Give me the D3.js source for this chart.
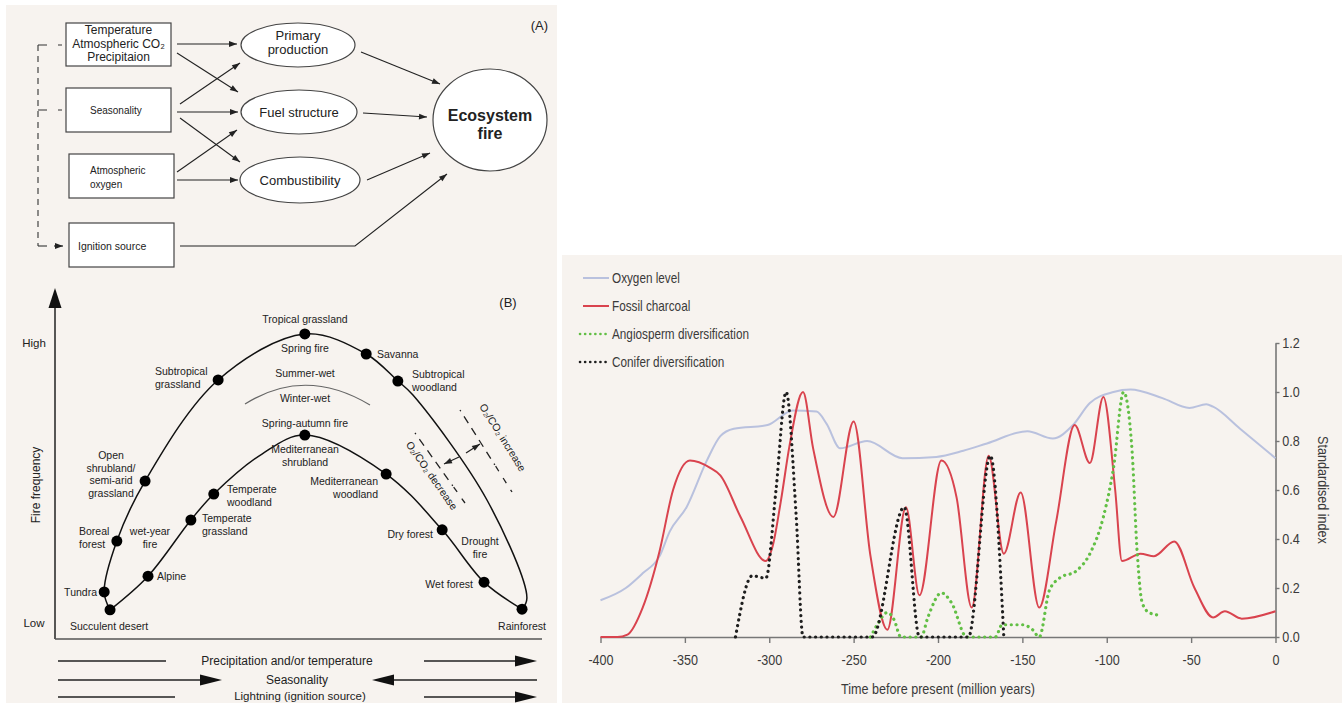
<!DOCTYPE html>
<html>
<head>
<meta charset="utf-8">
<script src="https://cdn.jsdelivr.net/npm/d3@7"></script>
<style>
  body { margin: 0; background: #fff; }
  svg text { font-family: "Liberation Sans", Arial, sans-serif; fill: #222; }
  .narrow text { fill: #3a3a3a; }
</style>
</head>
<body>
<div id="chart"></div>
<script>
// ---------- right chart data: [time (Ma), standardised index] ----------
const oxygenLevel = [[-400,0.15],[-385,0.2],[-375,0.26],[-365,0.33],[-359,0.43],[-349,0.53],[-337,0.72],[-329,0.82],[-321,0.85],[-301,0.865],
  [-286,0.925],[-272,0.92],[-266,0.87],[-258,0.77],[-242,0.8],[-221,0.73],[-201,0.735],[-185,0.76],[-171,0.79],[-147,0.84],
  [-132,0.81],[-120,0.865],[-110,0.955],[-96,1.0],[-86,1.01],[-67,0.975],[-51,0.935],[-41,0.95],[-37,0.94],[-21,0.85],[0,0.73]];
const fossilCharcoal = [[-400,0],[-390,0],[-384,0.01],[-375,0.12],[-365,0.35],[-357,0.6],[-347,0.72],[-335,0.69],[-329,0.66],[-317,0.49],
  [-302,0.31],[-298,0.37],[-293,0.56],[-288,0.78],[-280,1.0],[-274,0.77],[-262,0.49],[-250,0.88],[-240,0.33],[-230,0.03],
  [-219,0.53],[-211,0.17],[-198,0.72],[-189,0.57],[-180,0.12],[-170,0.74],[-161,0.34],[-151,0.59],[-140,0.12],[-130,0.47],
  [-119,0.865],[-110,0.71],[-102,0.98],[-95,0.6],[-91,0.31],[-80,0.34],[-72,0.33],[-60,0.39],[-48,0.2],[-37,0.08],
  [-30,0.105],[-20,0.075],[0,0.105]];
const angiosperm = [[-240,0],[-236,0.05],[-230,0.1],[-226,0.07],[-222,0],[-210,0],[-206,0.08],[-198,0.18],[-192,0.14],[-183,0],
  [-166,0],[-162,0.05],[-150,0.05],[-144,0.03],[-140,0],[-134,0.19],[-128,0.24],[-118,0.27],[-110,0.34],[-102,0.49],
  [-96,0.69],[-90,1.0],[-85,0.76],[-82,0.35],[-79,0.14],[-75,0.1],[-70,0.09]];
const conifer = [[-320,0],[-310,0.25],[-302,0.24],[-296,0.6],[-290,1.0],[-284,0.49],[-280,0],[-250,0],[-239,0],[-220,0.53],
  [-211,0],[-182,0],[-169,0.74],[-161,0]];
const xTicks = [-400,-350,-300,-250,-200,-150,-100,-50,0];
const yTicks = [0,0.2,0.4,0.6,0.8,1.0,1.2];
const legendNames = ["Oxygen level","Fossil charcoal","Angiosperm diversification","Conifer diversification"];

// ---------- panel B data: [precipitation index, fire frequency] (0-100) ----------
const outerCurve = [[11.3,8.3],[10.1,13.4],[12.7,27.9],[18.5,45],[33.5,73.8],[51.3,86.9],[63.9,81.2],[70.4,73.5],[73.5,69.5],[88.7,39.6],[96.9,11.7],[95.9,8.5]];
const innerCurve = [[11.3,8.3],[19.1,17.9],[27.9,33.9],[32.6,41.3],[42.5,52.7],[51.3,58.1],[68,47],[79.5,31.1],[88.1,16.2],[95.9,8.5]];
const biomeDots = [[11.3,8.3],[10.1,13.4],[12.7,27.9],[18.5,45],[33.5,73.8],[51.3,86.9],[63.9,81.2],[70.4,73.5],
  [19.1,17.9],[27.9,33.9],[32.6,41.3],[51.3,58.1],[68,47],[79.5,31.1],[88.1,16.2],[95.9,8.5]];

const svg = d3.select("#chart").append("svg")
    .attr("width", 1342).attr("height", 703);

// arrow marker
const defs = svg.append("defs");
defs.append("marker").attr("id", "ah").attr("markerUnits", "userSpaceOnUse")
    .attr("viewBox", "0 -5 10 10").attr("refX", 10).attr("refY", 0)
    .attr("markerWidth", 9).attr("markerHeight", 8).attr("orient", "auto")
    .append("path").attr("d", "M0,-3.6L10,0L0,3.6Z").attr("fill", "#222");

// backgrounds
svg.append("rect").attr("x", 6).attr("y", 5).attr("width", 551).attr("height", 698).attr("fill", "#f7f3ef");
svg.append("rect").attr("x", 562).attr("y", 255).attr("width", 780).attr("height", 448).attr("fill", "#f7f3ef");

function lines(g, arr, x, y, anchor, size, lh, weight) {
    const t = g.append("text").attr("x", x).attr("y", y).attr("text-anchor", anchor)
        .style("font-size", size + "px").style("font-weight", weight || "normal");
    arr.forEach((s, i) => t.append("tspan").attr("x", x).attr("dy", i ? lh : 0).text(s));
    return t;
}

// ================= Panel A =================
const gA = svg.append("g");
const boxes = [
    { x: 66, y: 23, w: 105, h: 43, lines: ["Temperature", "Atmospheric CO₂", "Precipitaion"], tx: 118.5, anchor: "middle", size: 12, ty: 34 },
    { x: 66, y: 88, w: 105, h: 44, lines: ["Seasonality"], tx: 90, anchor: "start", size: 10, ty: 114 },
    { x: 69, y: 154, w: 105, h: 44, lines: ["Atmospheric", "oxygen"], tx: 90, anchor: "start", size: 10, ty: 174 },
    { x: 69, y: 223, w: 105, h: 44, lines: ["Ignition source"], tx: 78, anchor: "start", size: 10.5, ty: 250 }
];
boxes.forEach(b => {
    gA.append("rect").attr("x", b.x).attr("y", b.y).attr("width", b.w).attr("height", b.h)
        .attr("fill", "#fff").attr("stroke", "#444").attr("stroke-width", 1.2);
    lines(gA, b.lines, b.tx, b.ty, b.anchor, b.size, 13.5);
});
const ellipses = [
    { cx: 298, cy: 45, rx: 57, ry: 22, lines: ["Primary", "production"], ty: 40, size: 13 },
    { cx: 299, cy: 112, rx: 58, ry: 22, lines: ["Fuel structure"], ty: 117, size: 13 },
    { cx: 300, cy: 180, rx: 60, ry: 23, lines: ["Combustibility"], ty: 185, size: 13 },
    { cx: 490, cy: 120, rx: 57, ry: 51, lines: ["Ecosystem", "fire"], ty: 121, size: 16, bold: true }
];
ellipses.forEach(e => {
    gA.append("ellipse").attr("cx", e.cx).attr("cy", e.cy).attr("rx", e.rx).attr("ry", e.ry)
        .attr("fill", "#fff").attr("stroke", "#444").attr("stroke-width", 1.2);
    lines(gA, e.lines, e.cx, e.ty, "middle", e.size, e.bold ? 18 : 13.5, e.bold ? "bold" : "normal");
});
const arrowsA = [[177,44,237,44],[177,53,238,92],[180,104,240,63],[177,112,238,112],[180,118,240,162],
    [177,172,237,130],[177,180,238,180],[361,52,440,84],[363,113,427,117],[367,180,430,153]];
arrowsA.forEach(a => gA.append("line").attr("x1", a[0]).attr("y1", a[1]).attr("x2", a[2]).attr("y2", a[3])
    .attr("stroke", "#222").attr("stroke-width", 1.1).attr("marker-end", "url(#ah)"));
gA.append("path").attr("d", "M180,246L355,246L447,174").attr("fill", "none")
    .attr("stroke", "#222").attr("stroke-width", 1.1).attr("marker-end", "url(#ah)");
// dashed bracket
gA.append("path").attr("d", "M38,45L38,246").attr("stroke", "#333").attr("stroke-width", 1.1)
    .attr("stroke-dasharray", "6 5").attr("fill", "none");
[45, 110].forEach(yy => {
    gA.append("path").attr("d", `M38,${yy}L47,${yy}M58,${yy}L62,${yy}`).attr("stroke", "#333").attr("stroke-width", 1.1);
});
gA.append("path").attr("d", "M38,246L47,246").attr("stroke", "#333").attr("stroke-width", 1.1);
gA.append("line").attr("x1", 54).attr("y1", 246).attr("x2", 63).attr("y2", 246)
    .attr("stroke", "#222").attr("stroke-width", 1.1).attr("marker-end", "url(#ah)");
gA.append("text").attr("x", 548).attr("y", 30).attr("text-anchor", "end").style("font-size", "13px").text("(A)");

// ================= Panel B =================
const gB = svg.append("g");
const xB = d3.scaleLinear().domain([0, 100]).range([55, 542]);
const yB = d3.scaleLinear().domain([0, 100]).range([639, 288]);
gB.append("line").attr("x1", 55).attr("y1", 302).attr("x2", 55).attr("y2", 639).attr("stroke", "#222").attr("stroke-width", 1.5);
gB.append("path").attr("d", "M55,288L61.5,308L48.5,308Z").attr("fill", "#111");
gB.append("line").attr("x1", 55).attr("y1", 639).attr("x2", 542).attr("y2", 639).attr("stroke", "#555").attr("stroke-width", 1.5);
gB.append("text").attr("x", 508).attr("y", 307).attr("text-anchor", "middle").style("font-size", "13px").text("(B)");
gB.append("text").attr("x", 34).attr("y", 347).attr("text-anchor", "middle").style("font-size", "11.5px").text("High");
gB.append("text").attr("x", 34).attr("y", 627).attr("text-anchor", "middle").style("font-size", "11.5px").text("Low");
gB.append("text").attr("transform", "translate(40,485) rotate(-90)").attr("text-anchor", "middle")
    .style("font-size", "12px").text("Fire frequency");

const curveLine = d3.line().x(d => xB(d[0])).y(d => yB(d[1])).curve(d3.curveCatmullRom.alpha(0.5));
[outerCurve, innerCurve].forEach(c => gB.append("path").attr("d", curveLine(c)).attr("fill", "none")
    .attr("stroke", "#111").attr("stroke-width", 1.5));
gB.append("path").attr("d", "M245,404Q305,366 370,405").attr("fill", "none").attr("stroke", "#666").attr("stroke-width", 1.2);
gB.selectAll(".dot").data(biomeDots).enter().append("circle")
    .attr("cx", d => xB(d[0])).attr("cy", d => yB(d[1])).attr("r", 5.5).attr("fill", "#000");

const labelsB = [
    [["Tropical grassland"], 305, 323, "middle"], [["Spring fire"], 305, 352, "middle"],
    [["Savanna"], 377, 358, "start"], [["Subtropical", "woodland"], 412, 378, "start"],
    [["Subtropical", "grassland"], 155, 375, "start"], [["Summer-wet"], 305, 377, "middle"],
    [["Winter-wet"], 305, 402, "middle"], [["Spring-autumn fire"], 305, 427, "middle"],
    [["Mediterranean", "shrubland"], 305, 453, "middle"], [["Mediterranean", "woodland"], 378, 485, "end"],
    [["Temperate", "woodland"], 227, 493, "start"], [["Temperate", "grassland"], 202, 522, "start"],
    [["Alpine"], 157, 580, "start"], [["Boreal", "forest"], 79, 535, "start"],
    [["wet-year", "fire"], 150, 535, "middle"], [["Open", "shrubland/", "semi-arid", "grassland"], 111, 459, "middle"],
    [["Tundra"], 97, 596, "end"], [["Succulent desert"], 70, 630, "start"],
    [["Dry forest"], 433, 538, "end"], [["Drought", "fire"], 480, 545, "middle"],
    [["Wet forest"], 473, 588, "end"], [["Rainforest"], 522, 630, "middle"]
];
labelsB.forEach(l => lines(gB, l[0], l[1], l[2], l[3], 10.5, 12.5));

// O2/CO2 dashed lines
gB.append("line").attr("x1", 460).attr("y1", 410).attr("x2", 512).attr("y2", 492)
    .attr("stroke", "#222").attr("stroke-width", 1.3).attr("stroke-dasharray", "1.5 6 8 6 8 6 8 6 8 6 1.5");
gB.append("line").attr("x1", 415).attr("y1", 433).attr("x2", 465).attr("y2", 503)
    .attr("stroke", "#222").attr("stroke-width", 1.3).attr("stroke-dasharray", "1.5 6 8 6 8 6 8 6 8 6 1.5");
gB.append("text").attr("transform", "translate(502,438) rotate(58)").attr("text-anchor", "middle")
    .attr("dominant-baseline", "middle").style("font-size", "10.5px").text("O₂/CO₂ increase");
gB.append("text").attr("transform", "translate(431,476) rotate(55)").attr("text-anchor", "middle")
    .attr("dominant-baseline", "middle").style("font-size", "10.5px").text("O₂/CO₂ decrease");
[[466,453,480,444],[459,457,444,464]].forEach(a => gB.append("line")
    .attr("x1", a[0]).attr("y1", a[1]).attr("x2", a[2]).attr("y2", a[3])
    .attr("stroke", "#222").attr("stroke-width", 1.2).attr("marker-end", "url(#ah)"));

// bottom driver arrows
function bigHead(x, y, dir) {
    gB.append("path").attr("d", `M${x},${y}L${x - dir * 22},${y - 5.5}L${x - dir * 22},${y + 5.5}Z`).attr("fill", "#111");
}
function hline(x1, x2, y) {
    gB.append("line").attr("x1", x1).attr("y1", y).attr("x2", x2).attr("y2", y).attr("stroke", "#222").attr("stroke-width", 1.3);
}
hline(58, 166, 661); hline(424, 520, 661); bigHead(537, 661, 1);
gB.append("text").attr("x", 287).attr("y", 665).attr("text-anchor", "middle").style("font-size", "12px").text("Precipitation and/or temperature");
hline(58, 205, 680); bigHead(222, 680, 1); hline(390, 537, 680); bigHead(372, 680, -1);
gB.append("text").attr("x", 297).attr("y", 684).attr("text-anchor", "middle").style("font-size", "12px").text("Seasonality");
hline(58, 175, 697); hline(424, 520, 697); bigHead(537, 697, 1);
gB.append("text").attr("x", 300).attr("y", 700).attr("text-anchor", "middle").style("font-size", "11.5px").text("Lightning (ignition source)");

// ================= Right chart =================
const gC = svg.append("g").attr("class", "narrow");
const x = d3.scaleLinear().domain([-400, 0]).range([600.5, 1275.5]);
const y = d3.scaleLinear().domain([0, 1.2]).range([637, 343]);
const line = d3.line().x(d => x(d[0])).y(d => y(d[1])).curve(d3.curveMonotoneX);
const squeeze = "scale(0.84,1)";

const series = [
    { data: oxygenLevel, color: "#b9c1de", dash: null },
    { data: fossilCharcoal, color: "#d9434e", dash: null },
    { data: angiosperm, color: "#62bf45", dash: "0.1 5.6" },
    { data: conifer, color: "#1e1e1e", dash: "0.1 5.6" }
];

// axes
const xAxis = gC.append("g").attr("transform", "translate(0,637)")
    .call(d3.axisBottom(x).tickValues(xTicks).tickSize(6).tickSizeOuter(0).tickPadding(11).tickFormat(d => String(d)));
const yAxis = gC.append("g").attr("transform", "translate(1275.5,0)")
    .call(d3.axisRight(y).tickValues(yTicks).tickSize(4).tickSizeOuter(0).tickPadding(4).tickFormat(d3.format(".1f")));
[xAxis, yAxis].forEach(a => {
    a.select(".domain").attr("stroke", "#777").attr("stroke-width", 1.6);
    a.selectAll(".tick line").attr("stroke", "#777").attr("stroke-width", 1.4);
    a.selectAll(".tick text").style("font-size", "15px").attr("fill", "#3a3a3a").attr("transform", squeeze);
});

series.forEach(s => {
    const p = gC.append("path").attr("d", line(s.data)).attr("fill", "none")
        .attr("stroke", s.color).attr("stroke-width", s.dash ? 3.2 : 2);
    if (s.dash) p.attr("stroke-dasharray", s.dash).attr("stroke-linecap", "round");
});

gC.append("text").attr("transform", "translate(938,694) " + squeeze).attr("text-anchor", "middle").style("font-size", "15px")
    .text("Time before present (million years)");
gC.append("text").attr("transform", "translate(1318,490) rotate(90) " + squeeze).attr("text-anchor", "middle")
    .style("font-size", "15px").text("Standardised index");

// legend
const legend = gC.append("g");
legendNames.forEach((name, i) => {
    const ly = 278 + i * 28;
    const s = series[i];
    const l = legend.append("line").attr("x1", s.dash ? 580 : 583).attr("x2", 609).attr("y1", ly).attr("y2", ly)
        .attr("stroke", s.color).attr("stroke-width", s.dash ? 2.6 : 2);
    if (s.dash) l.attr("stroke-dasharray", "0.1 5").attr("stroke-linecap", "round");
    legend.append("text").attr("transform", `translate(612,${ly + 5}) ${squeeze}`).style("font-size", "14px").text(name);
});
</script>
</body>
</html>
